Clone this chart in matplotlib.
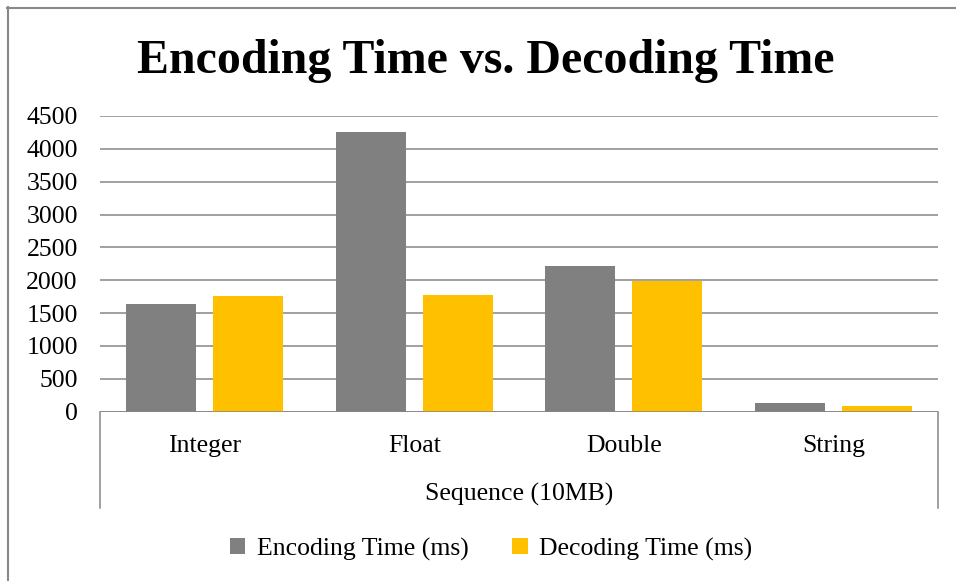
import matplotlib
matplotlib.use("Agg")
import matplotlib.pyplot as plt
import numpy as np
from matplotlib.lines import Line2D

plt.rcParams["font.family"] = ["Liberation Serif", "DejaVu Serif"]

CATEGORIES = ["Integer", "Float", "Double", "String"]
ENCODING_MS = [1640, 4260, 2210, 130]
DECODING_MS = [1760, 1780, 1990, 90]
SERIES = ["Encoding Time (ms)", "Decoding Time (ms)"]
YTICKS = list(range(0, 4501, 500))

GRAY = "#808080"
GOLD = "#FFC000"
LINE = "#868686"

W, H = 956, 581
fig = plt.figure(figsize=(W / 100, H / 100), dpi=100)
ax = fig.add_axes([100 / W, 1 - 411.7 / H, 838 / W, 295.7 / H])

x = np.arange(len(CATEGORIES))
bw = 0.334
off = 0.208
b1 = ax.bar(x - off, ENCODING_MS, bw, color=GRAY, zorder=3, label=SERIES[0])
b2 = ax.bar(x + off, DECODING_MS, bw, color=GOLD, zorder=3, label=SERIES[1])

ax.set_xlim(-0.5, len(CATEGORIES) - 0.5)
ax.set_ylim(0, 4500)
ax.set_yticks(YTICKS)
ax.set_yticklabels([str(t) for t in YTICKS], fontsize=18.5)
ax.set_xticks(x)
ax.set_xticklabels(CATEGORIES, fontsize=18.5)
ax.tick_params(axis="y", length=0, pad=16)
ax.tick_params(axis="x", length=0, pad=17)
ax.yaxis.grid(True, color=LINE, lw=1.1, zorder=0)
for s in ax.spines.values():
    s.set_visible(False)

# category axis: baseline plus the bracket down to the axis title
ax.axhline(0, color=LINE, lw=1.1, zorder=4)
depth = -(508 - 411.7) / 295.7
for xa in (0, 1):
    ax.add_line(Line2D([xa, xa], [0, depth], transform=ax.transAxes,
                       color=LINE, lw=1.1, clip_on=False))
ax.text(0.5, -(501 - 411.7) / 295.7, "Sequence (10MB)", transform=ax.transAxes,
        ha="center", va="baseline", fontsize=18.5)

fig.text(486 / W, 1 - 73.3 / H, "Encoding Time vs. Decoding Time",
         ha="center", va="baseline", fontsize=34.5, fontweight="bold")

fig.legend(handles=[b1, b2], loc="center", bbox_to_anchor=(491 / W, 1 - 549 / H),
           ncol=2, frameon=False, fontsize=18.5, handlelength=0.6, handleheight=0.6,
           handletextpad=0.45, columnspacing=1.7)

# outer chart border (top and left edges)
fig.add_artist(Line2D([7 / W, 1], [1 - 7.5 / H, 1 - 7.5 / H], color="#898989", lw=1.5))
fig.add_artist(Line2D([7.5 / W, 7.5 / W], [0, 1 - 7 / H], color="#898989", lw=1.5))

fig.savefig("out.png", dpi=100)
